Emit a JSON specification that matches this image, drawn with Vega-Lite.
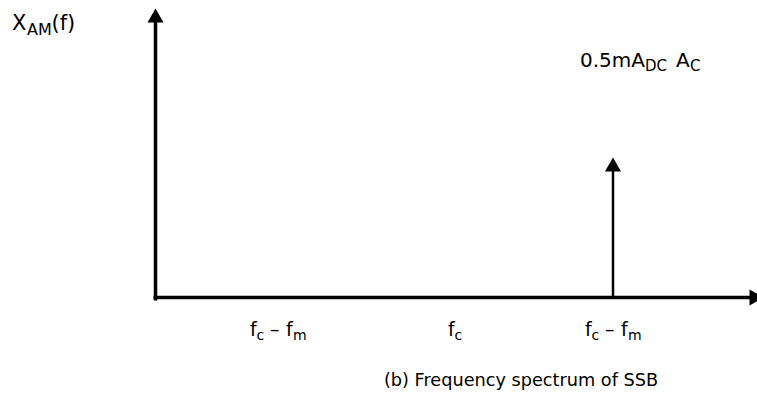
{
  "$schema": "https://vega.github.io/schema/vega-lite/v6.json",
  "width": 757,
  "height": 402,
  "padding": 0,
  "autosize": {"type": "none"},
  "background": "white",
  "config": {"view": {"stroke": null}},
  "datasets": {
    "axes": [
      {"x": 0, "y": -3, "x2": 0, "y2": 276},
      {"x": -2, "y": 0, "x2": 596, "y2": 0}
    ],
    "spikes": [
      {"x": 457.5, "y": 0, "x2": 457.5, "y2": 128}
    ],
    "heads": [
      {"x": 0, "y": 282, "dir": "up"},
      {"x": 601, "y": 0, "dir": "right"},
      {"x": 457.5, "y": 133, "dir": "up"}
    ],
    "bigText": [
      {"x": -143.5, "y": 267.5, "text": "X"},
      {"x": -104, "y": 267.5, "text": "(f)"}
    ],
    "bigSub": [
      {"x": -128.5, "y": 262.5, "text": "AM"}
    ],
    "ampText": [
      {"x": 424.5, "y": 230.5, "text": "0.5mA"},
      {"x": 520.5, "y": 230.5, "text": "A"}
    ],
    "ampSub": [
      {"x": 489.5, "y": 226.5, "text": "DC"},
      {"x": 534.5, "y": 226.5, "text": "C"}
    ],
    "mainText": [
      {"x": 94.5, "y": -38.5, "text": "f"},
      {"x": 114.5, "y": -38.5, "text": "–"},
      {"x": 130.5, "y": -38.5, "text": "f"},
      {"x": 292.5, "y": -38.5, "text": "f"},
      {"x": 429.5, "y": -38.5, "text": "f"},
      {"x": 449.5, "y": -38.5, "text": "–"},
      {"x": 465.5, "y": -38.5, "text": "f"}
    ],
    "subText": [
      {"x": 101, "y": -42.5, "text": "c"},
      {"x": 137.5, "y": -42.5, "text": "m"},
      {"x": 299, "y": -42.5, "text": "c"},
      {"x": 436, "y": -42.5, "text": "c"},
      {"x": 472.5, "y": -42.5, "text": "m"}
    ],
    "caption": [
      {"x": 365.5, "y": -88.5, "text": "(b) Frequency spectrum of SSB"}
    ]
  },
  "layer": [
    {
      "data": {"name": "axes"},
      "mark": {"type": "rule", "color": "black", "strokeWidth": 3.5},
      "encoding": {
        "x": {"field": "x", "type": "quantitative", "scale": {"domain": [-155.5, 601.5], "nice": false, "zero": false}, "axis": null},
        "y": {"field": "y", "type": "quantitative", "scale": {"domain": [-104.5, 297.5], "nice": false, "zero": false}, "axis": null},
        "x2": {"field": "x2"},
        "y2": {"field": "y2"}
      }
    },
    {
      "data": {"name": "spikes"},
      "mark": {"type": "rule", "color": "black", "strokeWidth": 2.5},
      "encoding": {
        "x": {"field": "x", "type": "quantitative"},
        "y": {"field": "y", "type": "quantitative"},
        "x2": {"field": "x2"},
        "y2": {"field": "y2"}
      }
    },
    {
      "data": {"name": "heads"},
      "mark": {"type": "point", "filled": true, "color": "black", "opacity": 1, "size": 260},
      "encoding": {
        "x": {"field": "x", "type": "quantitative"},
        "y": {"field": "y", "type": "quantitative"},
        "shape": {"field": "dir", "type": "nominal", "scale": {"domain": ["up", "right"], "range": ["triangle-up", "triangle-right"]}, "legend": null}
      }
    },
    {
      "data": {"name": "bigText"},
      "mark": {"type": "text", "font": "DejaVu Sans", "fontSize": 21, "align": "left", "baseline": "alphabetic", "color": "black"},
      "encoding": {
        "x": {"field": "x", "type": "quantitative"},
        "y": {"field": "y", "type": "quantitative"},
        "text": {"field": "text"}
      }
    },
    {
      "data": {"name": "bigSub"},
      "mark": {"type": "text", "font": "DejaVu Sans", "fontSize": 16, "align": "left", "baseline": "alphabetic", "color": "black"},
      "encoding": {
        "x": {"field": "x", "type": "quantitative"},
        "y": {"field": "y", "type": "quantitative"},
        "text": {"field": "text"}
      }
    },
    {
      "data": {"name": "ampText"},
      "mark": {"type": "text", "font": "DejaVu Sans", "fontSize": 20, "align": "left", "baseline": "alphabetic", "color": "black"},
      "encoding": {
        "x": {"field": "x", "type": "quantitative"},
        "y": {"field": "y", "type": "quantitative"},
        "text": {"field": "text"}
      }
    },
    {
      "data": {"name": "ampSub"},
      "mark": {"type": "text", "font": "DejaVu Sans", "fontSize": 15, "align": "left", "baseline": "alphabetic", "color": "black"},
      "encoding": {
        "x": {"field": "x", "type": "quantitative"},
        "y": {"field": "y", "type": "quantitative"},
        "text": {"field": "text"}
      }
    },
    {
      "data": {"name": "mainText"},
      "mark": {"type": "text", "font": "DejaVu Sans", "fontSize": 19, "align": "left", "baseline": "alphabetic", "color": "black"},
      "encoding": {
        "x": {"field": "x", "type": "quantitative"},
        "y": {"field": "y", "type": "quantitative"},
        "text": {"field": "text"}
      }
    },
    {
      "data": {"name": "subText"},
      "mark": {"type": "text", "font": "DejaVu Sans", "fontSize": 14, "align": "left", "baseline": "alphabetic", "color": "black"},
      "encoding": {
        "x": {"field": "x", "type": "quantitative"},
        "y": {"field": "y", "type": "quantitative"},
        "text": {"field": "text"}
      }
    },
    {
      "data": {"name": "caption"},
      "mark": {"type": "text", "font": "DejaVu Sans", "fontSize": 17.7, "align": "center", "baseline": "alphabetic", "color": "black"},
      "encoding": {
        "x": {"field": "x", "type": "quantitative"},
        "y": {"field": "y", "type": "quantitative"},
        "text": {"field": "text"}
      }
    }
  ]
}
